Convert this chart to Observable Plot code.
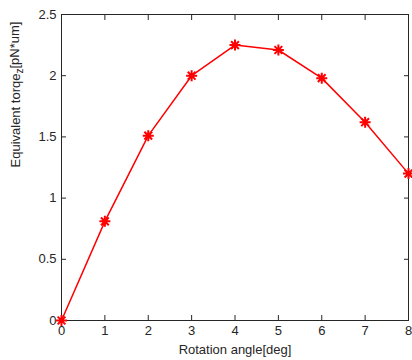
<!DOCTYPE html>
<html>
<head>
<meta charset="utf-8">
<script src="https://cdn.jsdelivr.net/npm/d3@7"></script>
<script src="https://cdn.jsdelivr.net/npm/@observablehq/plot@0.6"></script>
<style>
  html, body { margin: 0; padding: 0; background: #fff; }
  #chart { width: 412px; height: 360px; }
</style>
</head>
<body>
<div id="chart"></div>
<script>
const angles = [0, 1, 2, 3, 4, 5, 6, 7, 8];
const torque = [0, 0.81, 1.51, 2.00, 2.25, 2.21, 1.98, 1.62, 1.20];
const xTicks = [0, 1, 2, 3, 4, 5, 6, 7, 8];
const yTicks = [0, 0.5, 1, 1.5, 2, 2.5];
const xLabel = "Rotation angle[deg]";
const yLabel = "Equivalent torqe_z[pN*um]";

const data = angles.map((a, i) => ({angle: a, torque: torque[i]}));

// MATLAB-style '*' marker: + and x combined
const asterisk8 = {
  draw(context, size) {
    const r = Math.sqrt(size / Math.PI);
    const d = r * Math.SQRT1_2;
    context.moveTo(-r, 0); context.lineTo(r, 0);
    context.moveTo(0, -r); context.lineTo(0, r);
    context.moveTo(-d, -d); context.lineTo(d, d);
    context.moveTo(-d, d); context.lineTo(d, -d);
  }
};

const axisColor = "#262626";
const font = "'Liberation Sans', Arial, sans-serif";
const fmt = d => String(d);

const chart = Plot.plot({
  width: 412,
  height: 360,
  marginLeft: 61,
  marginRight: 4,
  marginTop: 14,
  marginBottom: 40,
  style: {fontFamily: font, fontSize: "13px", color: axisColor, background: "#fff"},
  x: {domain: [0, 8]},
  y: {domain: [0, 2.5]},
  marks: [
    Plot.frame({stroke: axisColor}),
    Plot.axisX(xTicks, {anchor: "bottom", tickSize: -5, tickPadding: 10, tickFormat: fmt, label: null, stroke: axisColor, fill: axisColor, fontSize: 13}),
    Plot.axisX(xTicks, {anchor: "top", tickSize: -5, tickFormat: () => "", label: null, stroke: axisColor}),
    Plot.axisY(yTicks, {anchor: "left", tickSize: -5, tickPadding: 10, tickFormat: fmt, label: null, stroke: axisColor, fill: axisColor, fontSize: 13}),
    Plot.axisY(yTicks, {anchor: "right", tickSize: -5, tickFormat: () => "", label: null, stroke: axisColor}),
    Plot.line(data, {x: "angle", y: "torque", stroke: "#ff0000", strokeWidth: 1.5}),
    Plot.dot(data, {x: "angle", y: "torque", symbol: asterisk8, r: 5.5, stroke: "#ff0000", strokeWidth: 2}),
    Plot.text([xLabel], {frameAnchor: "bottom", dy: 29, text: d => d, fill: axisColor, fontSize: 13, lineAnchor: "middle"}),
    Plot.text([yLabel], {frameAnchor: "left", dx: -46, rotate: -90, text: d => d, fill: axisColor, fontSize: 13, lineAnchor: "middle"})
  ]
});

document.getElementById("chart").appendChild(chart);

// Render the subscript "z" in the y label
chart.querySelectorAll("text").forEach(t => {
  if (t.textContent === yLabel) {
    const parts = yLabel.split("_z");
    t.textContent = "";
    const ns = "http://www.w3.org/2000/svg";
    const a = document.createElementNS(ns, "tspan"); a.textContent = parts[0];
    const s = document.createElementNS(ns, "tspan"); s.textContent = "z";
    s.setAttribute("dy", "0.3em"); s.setAttribute("font-size", "10");
    const b = document.createElementNS(ns, "tspan"); b.textContent = parts[1];
    b.setAttribute("dy", "-0.3em");
    t.append(a, s, b);
  }
});
</script>
</body>
</html>
